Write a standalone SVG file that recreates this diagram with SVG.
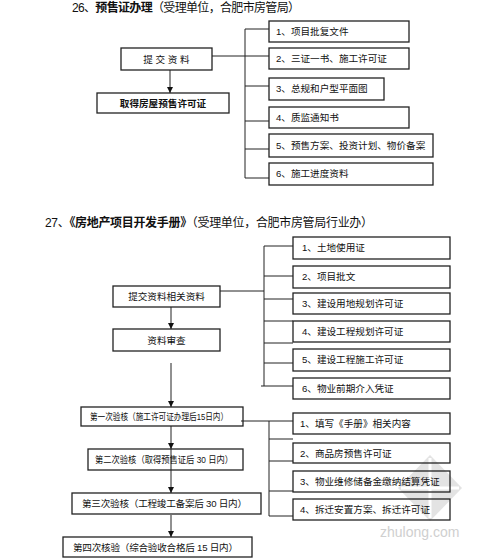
<svg xmlns="http://www.w3.org/2000/svg" width="479" height="560" viewBox="0 0 479 560">
<style>
.t{font-family:"Liberation Sans","Noto Sans CJK SC",sans-serif;fill:#111}
.title{font-size:12px}
.b{font-weight:bold}
.s{font-size:9.6px}
.box{fill:none;stroke:#222;stroke-width:1.3}
.ln{fill:none;stroke:#222;stroke-width:1}
</style>
<defs>
<marker id="ah" viewBox="0 0 8 8" refX="8" refY="4" markerWidth="6" markerHeight="6" markerUnits="userSpaceOnUse" orient="auto">
<path d="M0,0 L8,4 L0,8 Z" fill="#111"/>
</marker>
</defs>
<rect width="479" height="560" fill="#fff"/>
<g id="watermark" opacity="0.7">
<path d="M430,455 L462,488 L430,521 L398,488 Z" fill="#d8d8d8"/>
<path d="M430,458 L430,518 M401,488 L459,488" stroke="#fff" stroke-width="3"/>
<text class="t" x="380" y="537" style="font-size:14px;fill:#bbb">zhulong.com</text>
</g>
<text class="t title" x="72" y="12" textLength="228">26、<tspan class="b">预售证办理</tspan>（受理单位，合肥市房管局）</text>
<text class="t title" x="45" y="227" textLength="328">27、<tspan class="b">《房地产项目开发手册》</tspan>（受理单位，合肥市房管局行业办）</text>
<g id="connectors">
<path class="ln" d="M212,56 H269 M245,29 V178 M245,29 H269 M245,86 H269 M245,121 H269 M245,149 H269 M245,178 H269"/>
<path class="ln" d="M170,70 V93" marker-end="url(#ah)"/>
<path class="ln" d="M220,291 H264 M264,246 V386 M264,246 H293 M264,276 H293 M264,299 H293 M264,321 H293 M264,343 H293 M264,363 H293 M261,386 H293"/>
<path class="ln" d="M171,307 V329" marker-end="url(#ah)"/>
<path class="ln" d="M171,363 V407" marker-end="url(#ah)"/>
<path class="ln" d="M241,421 H293 M269,421 V516 M269,439 H293 M269,461 H293 M269,491 H293 M269,516 H293"/>
<path class="ln" d="M171,426 V449" marker-end="url(#ah)"/>
<path class="ln" d="M171,449 V493" marker-end="url(#ah)"/>
<path class="ln" d="M171,515 V537" marker-end="url(#ah)"/>
</g>
<g id="s1-submit"><rect class="box" x="121" y="48" width="91" height="22"/><text class="t s" x="166.5" y="63" text-anchor="middle" xml:space="preserve">提 交 资 料</text></g>
<g id="s1-result"><rect class="box" x="97" y="93" width="132" height="20"/><text class="t s b" x="163" y="107" text-anchor="middle">取得房屋预售许可证</text></g>
<g id="s1-i1"><rect class="box" x="269" y="21" width="140" height="21"/><text class="t s" x="276" y="35">1、项目批复文件</text></g>
<g id="s1-i2"><rect class="box" x="269" y="48" width="140" height="21"/><text class="t s" x="276" y="62">2、三证一书、施工许可证</text></g>
<g id="s1-i3"><rect class="box" x="269" y="78" width="115" height="22"/><text class="t s" x="276" y="92">3、总规和户型平面图</text></g>
<g id="s1-i4"><rect class="box" x="269" y="107" width="140" height="21"/><text class="t s" x="276" y="121">4、质监通知书</text></g>
<g id="s1-i5"><rect class="box" x="269" y="134" width="164" height="23"/><text class="t s" x="276" y="149">5、预售方案、投资计划、物价备案</text></g>
<g id="s1-i6"><rect class="box" x="269" y="163" width="164" height="22"/><text class="t s" x="276" y="177">6、施工进度资料</text></g>
<g id="s2-submit"><rect class="box" x="113" y="286" width="107" height="21"/><text class="t s" x="166.5" y="300" text-anchor="middle">提交资料相关资料</text></g>
<g id="s2-review"><rect class="box" x="113" y="329" width="107" height="22"/><text class="t s" x="166.5" y="344" text-anchor="middle">资料审查</text></g>
<g id="s2-i1"><rect class="box" x="293" y="237" width="157" height="22"/><text class="t s" x="302" y="251">1、土地使用证</text></g>
<g id="s2-i2"><rect class="box" x="293" y="266" width="157" height="22"/><text class="t s" x="302" y="280">2、项目批文</text></g>
<g id="s2-i3"><rect class="box" x="293" y="293" width="157" height="21"/><text class="t s" x="302" y="307">3、建设用地规划许可证</text></g>
<g id="s2-i4"><rect class="box" x="293" y="321" width="157" height="21"/><text class="t s" x="302" y="335">4、建设工程规划许可证</text></g>
<g id="s2-i5"><rect class="box" x="293" y="349" width="157" height="22"/><text class="t s" x="302" y="363">5、建设工程施工许可证</text></g>
<g id="s2-i6"><rect class="box" x="293" y="378" width="157" height="21"/><text class="t s" x="302" y="392">6、物业前期介入凭证</text></g>
<g id="s3-c1"><rect class="box" x="81" y="407" width="162" height="19"/><text class="t s" x="90" y="420" textLength="138" lengthAdjust="spacingAndGlyphs">第一次验核（施工许可证办理后15日内）</text></g>
<g id="s3-c2"><rect class="box" x="88" y="449" width="155" height="21"/><text class="t s" x="95" y="463" textLength="138" lengthAdjust="spacingAndGlyphs">第二次验核（取得预售证后 30 日内）</text></g>
<g id="s3-c3"><rect class="box" x="72" y="493" width="189" height="21"/><text class="t s" x="82" y="507" textLength="165">第三次验核（工程竣工备案后 30 日内）</text></g>
<g id="s3-c4"><rect class="box" x="63" y="537" width="189" height="20"/><text class="t s" x="73" y="551" textLength="165">第四次核验（综合验收合格后 15 日内）</text></g>
<g id="s3-i1"><rect class="box" x="293" y="413" width="157" height="21"/><text class="t s" x="300" y="427">1、填写《手册》相关内容</text></g>
<g id="s3-i2"><rect class="box" x="293" y="443" width="157" height="20"/><text class="t s" x="300" y="457">2、商品房预售许可证</text></g>
<g id="s3-i3"><rect class="box" x="293" y="471" width="157" height="21"/><text class="t s" x="300" y="485">3、物业维修储备金缴纳结算凭证</text></g>
<g id="s3-i4"><rect class="box" x="293" y="499" width="157" height="21"/><text class="t s" x="300" y="513">4、拆迁安置方案、拆迁许可证</text></g>
</svg>
